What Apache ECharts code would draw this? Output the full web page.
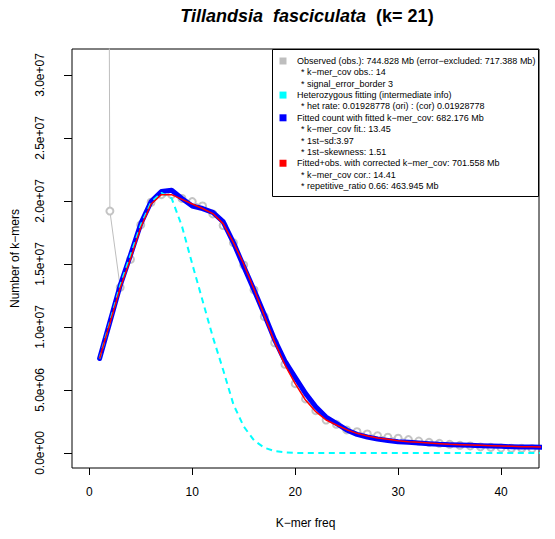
<!DOCTYPE html>
<html>
<head>
<meta charset="utf-8">
<title>Tillandsia fasciculata (k= 21)</title>
<script src="https://cdn.jsdelivr.net/npm/echarts@6/dist/echarts.min.js"></script>
<style>
	html, body {margin: 0; padding: 0; background: #fff;}
	#chart {width: 555px; height: 539px;}
</style>
</head>
<body>
<div id="chart"></div>
<script>
// k-mer frequency (x axis)
var freqs = [1, 2, 3, 4, 5, 6, 7, 8, 9, 10, 11, 12, 13, 14, 15, 16, 17, 18, 19, 20, 21, 22,
	23, 24, 25, 26, 27, 28, 29, 30, 31, 32, 33, 34, 35, 36, 37, 38, 39, 40, 41, 42, 43, 44];
// observed counts, first bin is far above the plot
var observedCounts = [2.6e8, 1.92e7, 1.315e7, 1.537e7, 1.81e7, 1.99e7, 2.05e7, 2.05e7, 2.02e7, 1.995e7,
	1.96e7, 1.897e7, 1.805e7, 1.669e7, 1.492e7, 1.294e7, 1.082e7, 8.75e6, 7.04e6, 5.5e6, 4.29e6, 3.36e6,
	2.62e6, 2.28e6, 1.83e6, 1.69e6, 1.51e6, 1.37e6, 1.25e6, 1.17e6, 1.06e6, 9.5e5, 8.5e5, 7.7e5, 6.9e5,
	6.1e5, 5.6e5, 4.8e5, 4.5e5, 4.0e5, 3.7e5, 3.7e5, 3.4e5, 3.2e5];
// heterozygous fitting (intermediate info)
var hetCounts = [7.5e6, 1.04e7, 1.33e7, 1.57e7, 1.81e7, 1.99e7, 2.065e7, 2.02e7, 1.8e7, 1.5e7,
	1.21e7, 9.2e6, 6.6e6, 3.85e6, 2.1e6, 1.0e6, 4.2e5, 1.5e5, 5e4, 0, 0, 0,
	0, 0, 0, 0, 0, 0, 0, 0, 0, 0, 0, 0, 0,
	0, 0, 0, 0, 0, 0, 0, 0, 0];
// fitted count with fitted k-mer_cov
var fittedCounts = [7.5e6, 1.04e7, 1.33e7, 1.57e7, 1.82e7, 1.995e7, 2.075e7, 2.085e7, 2.02e7, 1.96e7,
	1.94e7, 1.91e7, 1.836e7, 1.67e7, 1.48e7, 1.294e7, 1.1e7, 9.0e6, 7.3e6, 6.0e6, 4.73e6, 3.67e6,
	2.85e6, 2.35e6, 1.83e6, 1.48e6, 1.27e6, 1.11e6, 1.0e6, 9.0e5, 8.5e5, 7.9e5, 7.4e5, 6.9e5, 6.6e5,
	6.3e5, 6.1e5, 5.8e5, 5.6e5, 5.3e5, 5.0e5, 4.8e5, 4.8e5, 4.6e5];
// fitted + obs. with corrected k-mer_cov
var correctedCounts = [7.5e6, 1.03e7, 1.31e7, 1.54e7, 1.79e7, 1.976e7, 2.05e7, 2.05e7, 2.013e7, 1.976e7,
	1.94e7, 1.9e7, 1.82e7, 1.67e7, 1.5e7, 1.3e7, 1.09e7, 8.8e6, 7.0e6, 5.5e6, 4.2e6, 3.28e6,
	2.62e6, 2.22e6, 1.85e6, 1.56e6, 1.35e6, 1.19e6, 1.09e6, 9.8e5, 9.0e5, 8.5e5, 7.9e5, 7.4e5, 6.9e5,
	6.6e5, 6.3e5, 6.1e5, 5.8e5, 5.6e5, 5.3e5, 5.0e5, 5.0e5, 4.8e5];

var xTicks = [0, 10, 20, 30, 40];
var yTicks = [0, 5e6, 1e7, 1.5e7, 2e7, 2.5e7, 3e7];

var legendRows = [
	{text : 'Observed (obs.): 744.828 Mb (error\u2212excluded: 717.388 Mb)', color : '#bebebe'},
	{text : '* k\u2212mer_cov obs.: 14', sub : true},
	{text : '* signal_error_border 3', sub : true},
	{text : 'Heterozygous fitting (intermediate info)', color : '#00ffff'},
	{text : '* het rate: 0.01928778 (ori) : (cor) 0.01928778', sub : true},
	{text : 'Fitted count with fitted k\u2212mer_cov: 682.176 Mb', color : '#0000ff'},
	{text : '* k\u2212mer_cov fit.: 13.45', sub : true},
	{text : '* 1st\u2212sd:3.97', sub : true},
	{text : '* 1st\u2212skewness: 1.51', sub : true},
	{text : 'Fitted+obs. with corrected k\u2212mer_cov: 701.558 Mb', color : '#ff0000'},
	{text : '* k\u2212mer_cov cor.: 14.41', sub : true},
	{text : '* repetitive_ratio 0.66: 463.945 Mb', sub : true}
];

(function (window) {
	var FONT = '"Liberation Sans", Arial, Helvetica, sans-serif';
	var chart = echarts.init(document.getElementById('chart'), null, {renderer : 'svg'});

	var pairs = function (ys) {
		var out = [];
		for (var i = 0; i < freqs.length; i++) {
			out.push([freqs[i], ys[i]]);
		}
		return out;
	};
	// R style labels, e.g. 2.5e+07
	var sciLabel = function (v) {
		var s = Number(v).toExponential(1), p = s.split('e');
		var sign = p[1].charAt(0), ex = p[1].slice(1);
		if (ex.length < 2) ex = '0' + ex;
		return p[0] + 'e' + sign + ex;
	};

	// legend box drawn by hand (top right, inside the plot)
	var legendEls = [{
		type : 'rect',
		shape : {x : 272.5, y : 49.5, width : 266, height : 147},
		style : {fill : '#fff', stroke : '#000', lineWidth : 1}
	}];
	for (var i = 0; i < legendRows.length; i++) {
		var row = legendRows[i], y = 61 + i * 11.36;
		if (row.color) {
			legendEls.push({
				type : 'rect',
				shape : {x : 279.5, y : y - 3.5, width : 7, height : 7},
				style : {fill : row.color}
			});
		}
		legendEls.push({
			type : 'text',
			x : row.sub ? 301 : 297,
			y : y,
			style : {text : row.text, font : '9px ' + FONT, fill : '#000', verticalAlign : 'middle'}
		});
	}

	var option = {
		animation : false,
		backgroundColor : '#fff',
		title : {
			text : '{it|Tillandsia  fasciculata}{b|  (k= 21)}',
			left : 302,
			top : 2,
			textAlign : 'center',
			textStyle : {
				rich : {
					it : {fontFamily : FONT, fontSize : 18, fontWeight : 'bold', fontStyle : 'italic', color : '#000'},
					b : {fontFamily : FONT, fontSize : 18, fontWeight : 'bold', color : '#000'}
				}
			}
		},
		grid : {
			left : 72, right : 16, top : 49, bottom : 71,
			show : true, borderColor : '#000', borderWidth : 1, backgroundColor : 'transparent'
		},
		xAxis : {
			type : 'value',
			min : -1.68,
			max : 43.68,
			name : 'K\u2212mer freq',
			nameLocation : 'middle',
			nameGap : 49,
			nameTextStyle : {fontFamily : FONT, fontSize : 12, color : '#000'},
			axisLine : {show : false, onZero : false},
			splitLine : {show : false},
			axisTick : {show : true, length : 7, lineStyle : {color : '#000'}, customValues : xTicks},
			axisLabel : {fontFamily : FONT, fontSize : 12, color : '#000', margin : 18, customValues : xTicks}
		},
		yAxis : {
			type : 'value',
			min : -1.19e6,
			max : 3.206e7,
			name : 'Number of k\u2212mers',
			nameLocation : 'middle',
			nameGap : 51,
			nameTextStyle : {fontFamily : FONT, fontSize : 12, color : '#000'},
			axisLine : {show : false, onZero : false},
			splitLine : {show : false},
			axisTick : {show : true, length : 8, lineStyle : {color : '#000'}, customValues : yTicks},
			axisLabel : {
				fontFamily : FONT, fontSize : 12, color : '#000', margin : 26, rotate : 90,
				customValues : yTicks,
				formatter : sciLabel
			}
		},
		series : [{
			name : 'Observed',
			type : 'line',
			data : pairs(observedCounts),
			symbol : 'emptyCircle',
			symbolSize : 7,
			itemStyle : {color : '#c4c4c4', borderWidth : 1},
			lineStyle : {color : '#bebebe', width : 1},
			z : 1
		}, {
			name : 'Fitted',
			type : 'line',
			data : pairs(fittedCounts),
			showSymbol : false,
			lineStyle : {color : '#0000ff', width : 5, cap : 'round', join : 'round'},
			z : 2
		}, {
			name : 'Heterozygous',
			type : 'line',
			data : pairs(hetCounts),
			showSymbol : false,
			lineStyle : {color : '#00ffff', width : 2, type : [6, 4.5]},
			z : 3
		}, {
			name : 'Corrected',
			type : 'line',
			data : pairs(correctedCounts),
			showSymbol : false,
			lineStyle : {color : '#ff0000', width : 1.5, join : 'round'},
			z : 4
		}],
		graphic : {
			elements : [{type : 'group', z : 100, children : legendEls}]
		}
	};
	chart.setOption(option);
})(window);
</script>
</body>
</html>
